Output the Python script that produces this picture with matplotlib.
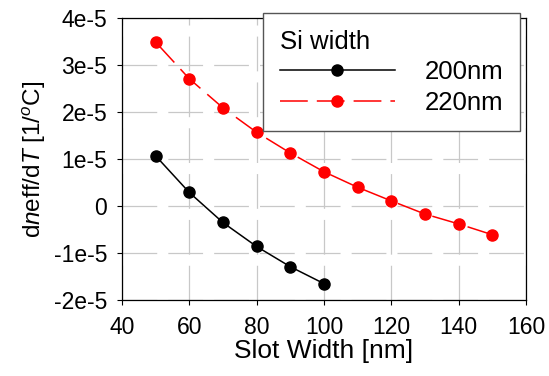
import numpy as np
import matplotlib.pyplot as plt
from matplotlib.ticker import FuncFormatter

plt.rcParams['font.family'] = ['Liberation Sans', 'DejaVu Sans']
plt.rcParams['mathtext.fontset'] = 'custom'
plt.rcParams['mathtext.rm'] = 'Liberation Sans'
plt.rcParams['mathtext.it'] = 'Liberation Sans:italic'
plt.rcParams['lines.scale_dashes'] = False

slot_200 = [50, 60, 70, 80, 90, 100]
dndt_200 = [1.07e-5, 0.29e-5, -0.35e-5, -0.86e-5, -1.29e-5, -1.65e-5]
slot_220 = [50, 60, 70, 80, 90, 100, 110, 120, 130, 140, 150]
dndt_220 = [3.49e-5, 2.71e-5, 2.09e-5, 1.57e-5, 1.13e-5, 0.73e-5,
            0.40e-5, 0.11e-5, -0.17e-5, -0.38e-5, -0.61e-5]
labels = ['200nm', '220nm']
xticks = [40, 60, 80, 100, 120, 140, 160]
yticks = [-2e-5, -1e-5, 0, 1e-5, 2e-5, 3e-5, 4e-5]

fig = plt.figure(figsize=(5.49, 3.76), dpi=100)
ax = fig.add_axes([0.222, 0.202, 0.736, 0.750])

ax.plot(slot_200, dndt_200, color='black', marker='o', markersize=8,
        linewidth=1.1, label=labels[0], zorder=3)
ax.plot(slot_220, dndt_220, color='#ff0000', marker='o', markersize=8,
        linewidth=1.1, dashes=(20, 6.5), label=labels[1], zorder=3)

ax.set_xlim(40, 160)
ax.set_ylim(-2e-5, 4e-5)
ax.set_xticks(xticks)
ax.set_yticks(yticks)
ax.yaxis.set_major_formatter(FuncFormatter(
    lambda v, p: '0' if abs(v) < 1e-12 else f'{v / 1e-5:.0f}e-5'))
ax.grid(True, color='#c8c8c8', linewidth=0.9, dashes=(25, 8))
ax.set_axisbelow(True)
ax.tick_params(direction='out', length=3.5, width=0.8, labelsize=16.5)
ax.tick_params(axis='x', pad=8)
ax.tick_params(axis='y', pad=7)
for s in ax.spines.values():
    s.set_linewidth(0.9)

ax.set_xlabel('Slot Width [nm]', fontsize=19, labelpad=0)
ax.set_ylabel(r'd$\it{n}$eff/d$\it{T}$ [1/$^{\it{o}}$C]', fontsize=17.5, labelpad=4)

leg = ax.legend(title='Si width', loc='upper left', bbox_to_anchor=(0.349, 1.018),
                borderaxespad=0, fontsize=18.5, title_fontsize=18.5,
                handlelength=4.5, handletextpad=1.15, borderpad=0.65,
                labelspacing=0.25, fancybox=False, framealpha=1,
                edgecolor='#555555', alignment='left')
leg.get_frame().set_linewidth(1.0)
leg.set_zorder(5)

plt.savefig('out.png', dpi=100)
